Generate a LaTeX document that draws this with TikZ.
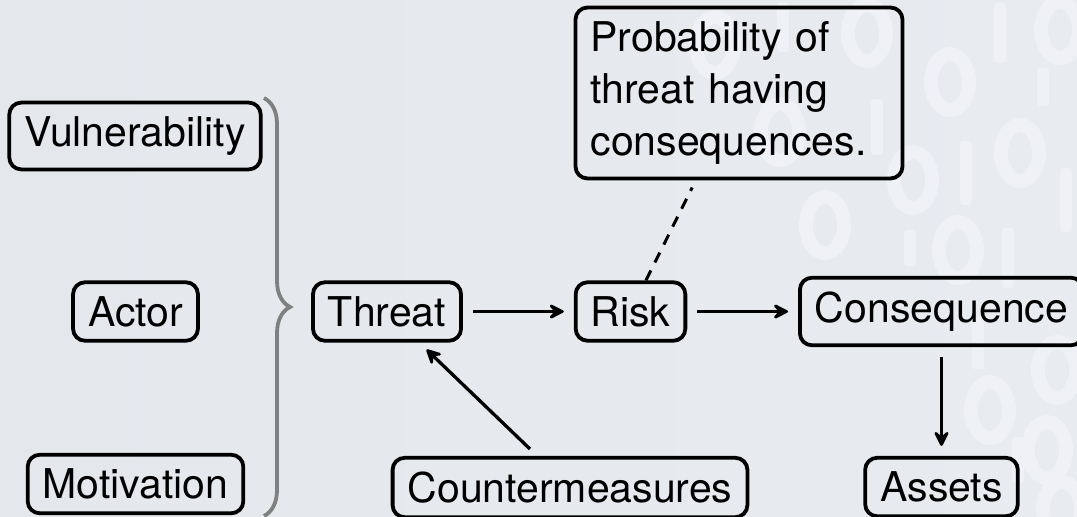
\documentclass[tikz,border=0pt]{standalone}
\usepackage{fontspec}
\setmainfont{TeX Gyre Heros}
\usetikzlibrary{decorations.pathreplacing,arrows.meta}
\definecolor{bgleft}{RGB}{228,231,236}
\definecolor{bgright}{RGB}{232,235,240}
\definecolor{bitcol}{RGB}{240,240,247}
\definecolor{bracecol}{RGB}{128,128,128}
\tikzset{
  box/.style={draw, line width=3.8pt, rounded corners=12pt,
    inner xsep=15pt, inner ysep=14pt, font=\fontsize{41}{52}\selectfont},
  link/.style={line width=3.3pt, shorten <=10pt, shorten >=10pt,
    -{Stealth[length=20pt,width=20pt,inset=9pt,round]}},
  bitzero/.style={draw=bitcol, line width=14pt},
  bitone/.style={fill=bitcol, rounded corners=3pt},
}
\begin{document}
\begin{tikzpicture}[x=1pt,y=-1pt]
\useasboundingbox (0,0) rectangle (1077,517);
\clip (0,0) rectangle (1077,517);
% slide background
\shade[left color=bgleft, right color=bgright] (0,0) rectangle (1077,517);
% faint binary digits in the background
\foreach \x/\y in {715/45, 867/33, 950/82, 780/132, 913/180, 1020/153,
                   825/225, 958/250, 1060/30, 990/410, 1057/370, 1047/450, 1062/510}
  \draw[bitzero] (\x,\y) ellipse (19 and 28);
\foreach \x/\y/\h in {1000/33/60, 1043/87/38, 877/127/56, 966/173/64,
                      910/248/36, 1008/258/60, 1066/200/64, 978/343/52,
                      1018/460/46, 783/27/50}
  \fill[bitone] (\x-6,\y-\h/2) rectangle (\x+6,\y+\h/2);
% concepts
\node[box] (vul)     at (135,136)   {Vulnerability};
\node[box] (actor)   at (135.5,311.5) {Actor};
\node[box] (motiv)   at (135.5,484) {Motivation};
\node[box] (threat)  at (387,311.5) {Threat};
\node[box] (risk)    at (630.5,311.5) {Risk};
\node[box] (cons)    at (941.5,311.5) {Consequence};
\node[box] (counter) at (570,487.5) {Countermeasures};
\node[box] (assets)  at (941.5,487) {Assets};
\node[box, text width=297pt, align=left] (prob) at (739,93)
  {Probability of threat having consequences.};
% brace grouping the contributing factors
\coordinate (bt) at (264,98);
\coordinate (bb) at (264,516);
\draw[bracecol, line width=3.8pt, decorate,
      decoration={brace, amplitude=26pt}] (bt) -- (bb);
% relations
\draw[link] (threat) -- (risk);
\draw[link] (risk) -- (cons);
\draw[link] (cons) -- (assets);
\draw[link] (counter) -- (threat);
\draw[line width=3pt, dash pattern=on 11pt off 9pt, shorten >=8pt] (risk) -- (prob);
\end{tikzpicture}
\end{document}
